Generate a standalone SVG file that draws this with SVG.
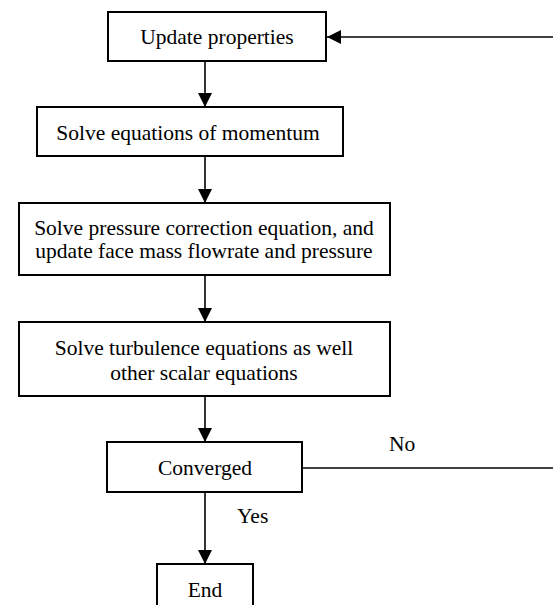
<svg xmlns="http://www.w3.org/2000/svg" width="553" height="605" viewBox="0 0 553 605">
<style>
.box{fill:#fff;stroke:#000;stroke-width:2}
text{font-family:'Liberation Serif','Times New Roman',serif;font-size:21.5px;fill:#000}
.t{text-anchor:middle}
.c{stroke:#000;stroke-width:1.6;fill:none}
</style>
<defs>
<marker id="ah" markerUnits="userSpaceOnUse" markerWidth="14" markerHeight="14" refX="14" refY="7" orient="auto">
<path d="M0,0 L14,7 L0,14 Z" fill="#000"/>
</marker>
</defs>
<g id="connectors">
<line class="c" x1="205" y1="61" x2="205" y2="107" marker-end="url(#ah)"/>
<line class="c" x1="205" y1="156" x2="205" y2="203" marker-end="url(#ah)"/>
<line class="c" x1="205" y1="275" x2="205" y2="322" marker-end="url(#ah)"/>
<line class="c" x1="205" y1="396" x2="205" y2="442" marker-end="url(#ah)"/>
<line class="c" x1="205" y1="492" x2="205" y2="564" marker-end="url(#ah)"/>
<line class="c" x1="302" y1="468" x2="553" y2="468"/>
<line class="c" x1="553" y1="37" x2="327" y2="37" marker-end="url(#ah)"/>
<text x="389" y="451">No</text>
<text x="237" y="523">Yes</text>
</g>
<g id="update">
<rect class="box" x="108" y="12" width="218" height="49"/>
<text class="t" x="217" y="44">Update properties</text>
</g>
<g id="momentum">
<rect class="box" x="37" y="107" width="306" height="49"/>
<text class="t" x="188" y="140">Solve equations of momentum</text>
</g>
<g id="pressure">
<rect class="box" x="19" y="203" width="371" height="72"/>
<text class="t" x="204" y="235">Solve pressure correction equation, and</text>
<text class="t" x="204" y="258">update face mass flowrate and pressure</text>
</g>
<g id="turbulence">
<rect class="box" x="19" y="322" width="371" height="74"/>
<text class="t" x="204" y="355">Solve turbulence equations as well</text>
<text class="t" x="204" y="380">other scalar equations</text>
</g>
<g id="converged">
<rect class="box" x="107" y="442" width="195" height="50"/>
<text class="t" x="205" y="475">Converged</text>
</g>
<g id="end">
<rect class="box" x="157" y="564" width="96" height="50"/>
<text class="t" x="205" y="597">End</text>
</g>
</svg>
